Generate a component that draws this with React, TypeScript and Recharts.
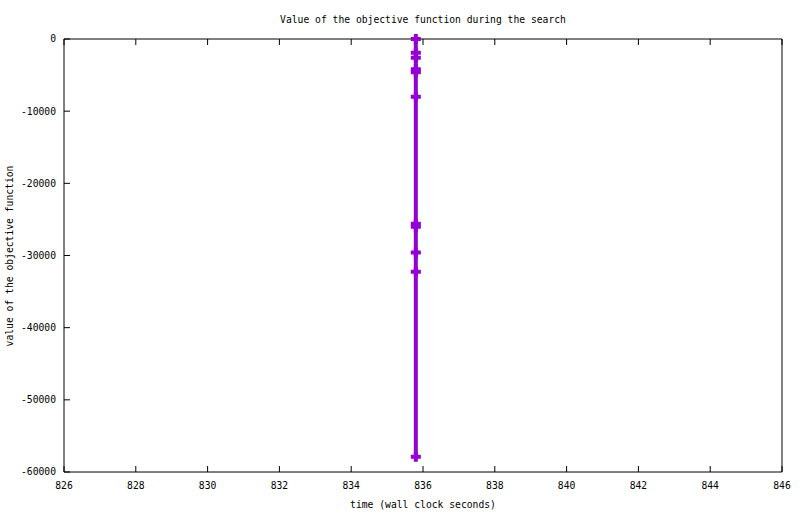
import React from 'react';
import { LineChart, Line, XAxis, YAxis } from 'recharts';

const timeValues = [835.8, 835.8, 835.8, 835.8, 835.8, 835.8, 835.8, 835.8, 835.8, 835.8, 835.8];
const objectiveValues = [0, -1900, -2600, -4200, -4600, -8000, -25600, -26000, -29600, -32250, -57900];
const xTicks = [826, 828, 830, 832, 834, 836, 838, 840, 842, 844, 846];
const yTicks = [0, -10000, -20000, -30000, -40000, -50000, -60000];

const data = timeValues.map((t, i) => ({ t, v: objectiveValues[i] }));

const COLOR = '#9400d3';
const FONT = '"DejaVu Sans Mono", monospace';
const tickStyle = { fontSize: 9.7, fontFamily: FONT, fill: '#000' };

const PlusDot = (props: any) => {
  const { cx, cy, index } = props;
  if (cx == null || cy == null) return null;
  return (
    <path
      key={`dot-${index}`}
      d={`M${cx - 5},${cy} H${cx + 5} M${cx},${cy - 5} V${cy + 5}`}
      stroke={COLOR}
      strokeWidth={4}
      fill="none"
    />
  );
};

export default function App() {
  return (
    <div style={{ position: 'absolute', left: 0, top: 0, width: 800, height: 514, background: '#fff', fontFamily: FONT }}>
      <LineChart width={800} height={514} data={data} margin={{ top: 0, right: 0, bottom: 0, left: 0 }}>
        <XAxis
          xAxisId="b"
          dataKey="t"
          type="number"
          domain={[826, 846]}
          ticks={xTicks}
          orientation="bottom"
          height={42}
          tickSize={-6}
          tickMargin={16}
          tick={tickStyle}
          stroke="#000"
          interval={0}
        />
        <XAxis
          xAxisId="t"
          dataKey="t"
          type="number"
          domain={[826, 846]}
          ticks={xTicks}
          orientation="top"
          height={39}
          tickSize={-6}
          tickFormatter={() => ''}
          stroke="#000"
          interval={0}
        />
        <YAxis
          yAxisId="l"
          type="number"
          domain={[-60000, 0]}
          ticks={yTicks}
          orientation="left"
          width={64}
          tickSize={-6}
          tickMargin={14}
          tick={tickStyle}
          stroke="#000"
          interval={0}
        />
        <YAxis
          yAxisId="r"
          type="number"
          domain={[-60000, 0]}
          ticks={yTicks}
          orientation="right"
          width={18}
          tickSize={-6}
          tickFormatter={() => ''}
          stroke="#000"
          interval={0}
        />
        <Line
          xAxisId="b"
          yAxisId="l"
          dataKey="v"
          type="linear"
          stroke={COLOR}
          strokeWidth={4}
          dot={PlusDot}
          activeDot={false}
          isAnimationActive={false}
        />
      </LineChart>
      <div style={{ position: 'absolute', left: 0, width: 846, top: 14, textAlign: 'center', fontSize: 9.7, lineHeight: '12px', whiteSpace: 'nowrap' }}>
        Value of the objective function during the search
      </div>
      <div style={{ position: 'absolute', left: 0, width: 846, top: 499, textAlign: 'center', fontSize: 9.7, lineHeight: '12px', whiteSpace: 'nowrap' }}>
        time (wall clock seconds)
      </div>
      <div style={{ position: 'absolute', left: 10, top: 256, width: 0, height: 0 }}>
        <div style={{ position: 'absolute', left: -150, top: -6, width: 300, textAlign: 'center', fontSize: 9.7, lineHeight: '12px', whiteSpace: 'nowrap', transform: 'rotate(-90deg)' }}>
          value of the objective function
        </div>
      </div>
    </div>
  );
}
